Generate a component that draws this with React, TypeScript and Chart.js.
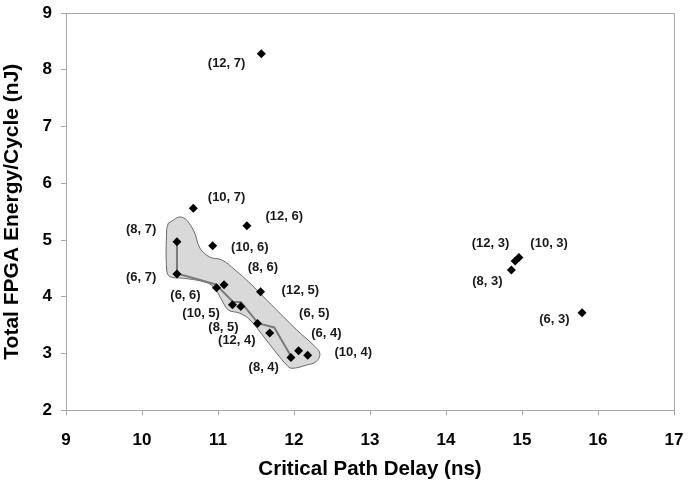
import React, { useEffect, useRef } from "react";
import { Chart, registerables } from "chart.js";

Chart.register(...registerables);

// Scatter points (critical path delay ns, energy nJ)
const pointX = [11.57, 10.675, 11.38, 10.46, 10.93, 10.46, 10.98, 11.08, 11.56, 11.19, 11.30, 11.52, 11.68, 11.96, 12.06, 12.18, 14.91, 14.96, 14.86, 15.79];
const pointY = [8.28, 5.56, 5.25, 4.97, 4.90, 4.40, 4.16, 4.21, 4.09, 3.86, 3.83, 3.53, 3.36, 2.93, 3.05, 2.97, 4.63, 4.69, 4.47, 3.72];

// Point annotations
const labelText = ["(12, 7)", "(10, 7)", "(12, 6)", "(8, 7)", "(10, 6)", "(8, 6)", "(6, 7)", "(12, 5)", "(6, 6)", "(10, 5)", "(6, 5)", "(8, 5)", "(12, 4)", "(6, 4)", "(10, 4)", "(8, 4)", "(12, 3)", "(10, 3)", "(8, 3)", "(6, 3)"];
const labelX = [11.113, 11.113, 11.872, 9.989, 11.419, 11.59, 9.989, 12.084, 10.572, 10.778, 12.267, 11.072, 11.248, 12.426, 12.779, 11.602, 14.586, 15.357, 14.544, 15.427];
const labelY = [8.119, 5.759, 5.418, 5.183, 4.878, 4.525, 4.338, 4.115, 4.026, 3.704, 3.704, 3.457, 3.234, 3.351, 3.028, 2.764, 4.948, 4.948, 4.279, 3.598];

// Pareto front line
const frontX = [10.46, 10.46, 10.97, 11.2, 11.3, 11.53, 11.74, 11.97];
const frontY = [4.99, 4.41, 4.22, 3.91, 3.91, 3.53, 3.46, 2.93];

// Shaded region outline
const blobX = [10.346, 10.522, 10.675, 10.763, 10.895, 11.049, 11.224, 11.421, 11.618, 11.728, 11.859, 12.036, 12.254, 12.34, 12.29, 12.167, 11.97, 11.904, 11.772, 11.618, 11.421, 11.289, 11.136, 11.049, 10.938, 10.807, 10.543, 10.368, 10.325, 10.325, 10.346];
const blobY = [5.297, 5.403, 5.179, 4.856, 4.697, 4.65, 4.473, 4.239, 3.974, 3.826, 3.65, 3.415, 3.151, 3.005, 2.856, 2.798, 2.74, 2.798, 3.005, 3.269, 3.592, 3.71, 3.768, 3.945, 4.179, 4.267, 4.327, 4.355, 4.473, 5.179, 5.297];

const xTicks = [9, 10, 11, 12, 13, 14, 15, 16, 17];
const yTicks = [2, 3, 4, 5, 6, 7, 8, 9];

const FONT = "'Liberation Sans', Arial, Helvetica, sans-serif";

const zip = (xs: number[], ys: number[]) => xs.map((x, i) => ({ x, y: ys[i] }));

export default function App() {
  const ref = useRef<HTMLCanvasElement | null>(null);

  useEffect(() => {
    if (!ref.current) return;

    const labelPlugin = {
      id: "pointLabels",
      afterDatasetsDraw(chart: any) {
        const { ctx, scales } = chart;
        ctx.save();
        ctx.font = `bold 13px ${FONT}`;
        ctx.fillStyle = "#1a1a1a";
        ctx.textAlign = "center";
        ctx.textBaseline = "middle";
        labelText.forEach((t, i) => {
          ctx.fillText(t, scales.x.getPixelForValue(labelX[i]), scales.y.getPixelForValue(labelY[i]));
        });
        ctx.restore();
      },
    };

    const framePlugin = {
      id: "frame",
      beforeDatasetsDraw(chart: any) {
        const { ctx, chartArea: a } = chart;
        ctx.save();
        ctx.strokeStyle = "#a8a8a8";
        ctx.lineWidth = 1;
        ctx.strokeRect(Math.round(a.left) + 0.5, Math.round(a.top) + 0.5, Math.round(a.right - a.left), Math.round(a.bottom - a.top));
        ctx.restore();
      },
    };

    const chart = new Chart(ref.current, {
      type: "scatter",
      data: {
        datasets: [
          {
            label: "points",
            data: zip(pointX, pointY),
            pointStyle: "rectRot",
            pointRadius: 4.5,
            pointBackgroundColor: "#000",
            pointBorderColor: "#000",
            pointBorderWidth: 0,
            showLine: false,
            order: 0,
          },
          {
            type: "line",
            label: "front",
            data: zip(frontX, frontY),
            borderColor: "#7a7a7a",
            borderWidth: 2,
            pointRadius: 0,
            fill: false,
            tension: 0,
            order: 1,
          },
          {
            type: "line",
            label: "region",
            data: zip(blobX, blobY),
            borderColor: "#6a6a6a",
            borderWidth: 1,
            backgroundColor: "#d9d9d9",
            pointRadius: 0,
            fill: "shape",
            tension: 0.4,
            order: 2,
          } as any,
        ],
      },
      options: {
        responsive: false,
        animation: false,
        events: [],
        layout: { padding: { top: 13, right: 26, left: 0, bottom: 0 } },
        plugins: { legend: { display: false }, tooltip: { enabled: false } },
        scales: {
          x: {
            type: "linear",
            min: 9,
            max: 17,
            afterBuildTicks: (s: any) => { s.ticks = xTicks.map((v) => ({ value: v })); },
            afterFit: (s: any) => { s.height = 76.7; s.paddingLeft = 0; s.paddingRight = 0; },
            grid: { drawOnChartArea: false, drawTicks: true, tickLength: 5, color: "#a8a8a8" },
            border: { display: true, color: "#a8a8a8" },
            ticks: { color: "#000", padding: 15, font: { family: FONT, size: 17, weight: "bold" } },
            title: { display: true, text: "Critical Path Delay (ns)", color: "#000", padding: { top: 0, bottom: 5 }, font: { family: FONT, size: 20.5, weight: "bold" } },
          },
          y: {
            type: "linear",
            min: 2,
            max: 9,
            afterBuildTicks: (s: any) => { s.ticks = yTicks.map((v) => ({ value: v })); },
            afterFit: (s: any) => { s.width = 66; s.paddingTop = 0; s.paddingBottom = 0; },
            grid: { drawOnChartArea: false, drawTicks: true, tickLength: 5, color: "#a8a8a8" },
            border: { display: true, color: "#a8a8a8" },
            ticks: { color: "#000", padding: 9, font: { family: FONT, size: 17, weight: "bold" } },
            title: { display: true, text: "Total FPGA Energy/Cycle (nJ)", color: "#000", padding: { top: 0, bottom: 0 }, font: { family: FONT, size: 21, weight: "bold" } },
          },
        },
      } as any,
      plugins: [framePlugin, labelPlugin],
    });

    return () => chart.destroy();
  }, []);

  return (
    <div style={{ position: "fixed", left: 0, top: 0, width: 700, height: 487, background: "#fff" }}>
      <canvas ref={ref} width={700} height={487} style={{ display: "block" }} />
    </div>
  );
}
